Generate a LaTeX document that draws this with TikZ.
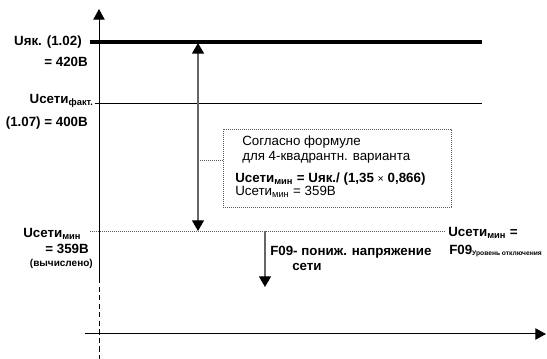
\documentclass[tikz,border=0pt]{standalone}
\usepackage{fontspec}
\setmainfont{Liberation Sans}
\usetikzlibrary{arrows.meta}
\begin{document}
\begin{tikzpicture}[x=0.75pt,y=-0.75pt,
  lbl/.style={inner sep=0pt,font=\fontsize{10}{12}\selectfont\bfseries},
  txt/.style={inner sep=0pt,font=\fontsize{10}{12}\selectfont},
  small/.style={inner sep=0pt,font=\fontsize{7.5}{9}\selectfont\bfseries},
  axis/.style={line width=0.75pt,-{Triangle[length=8pt,width=8.5pt]}},
  garrow/.style={draw=black!60,line width=1pt,-{Triangle[length=8pt,width=9pt,color=black]}},
  dotline/.style={draw=black!65,line width=0.6pt,dash pattern=on 0.6pt off 0.9pt}
]
\useasboundingbox (0,0) rectangle (547,359);
% axes
\coordinate (ytop) at (99,9);
\coordinate (ybot) at (99,278);
\coordinate (yend) at (99,359);
\coordinate (xl) at (85,334);
\coordinate (xr) at (546,334);
\draw[axis] (ybot) -- (ytop);
\draw[line width=0.75pt,dash pattern=on 4pt off 2.4pt] (ybot) -- (yend);
\draw[axis] (xl) -- (xr);
% level lines
\coordinate (ukl) at (90,42);  \coordinate (ukr) at (482,42);
\coordinate (ufl) at (95,103); \coordinate (ufr) at (482,103);
\coordinate (uml) at (90,231); \coordinate (umr) at (445,231);
\draw[line width=2.3pt] (ukl) -- (ukr);
\draw[line width=0.6pt] (ufl) -- (ufr);
\draw[dotline] (uml) -- (umr);
% double arrow
\coordinate (dtop) at (198,43);
\coordinate (dbot) at (198,231);
\coordinate (dmid) at (198,160);
\draw[garrow,{Triangle[length=8pt,width=9pt,color=black]}-{Triangle[length=8pt,width=9pt,color=black]}] (dbot) -- (dtop);
% down arrow
\coordinate (ftop) at (265,231);
\coordinate (fbot) at (265,287);
\draw[garrow] (ftop) -- (fbot);
% box
\node[dotline,draw,minimum width=228*0.75pt,minimum height=78*0.75pt,inner sep=0pt] (box) at (337,168) {};
\draw[dotline] (box.west |- dmid) -- (dmid);
\node[txt,anchor=west] (b1) at (242,142) {Согласно формуле};
\node[txt,anchor=west] (b2) at (242,157) {для 4-квадрантн. варианта};
\node[lbl,anchor=west] (b3) at (235,179) {Uсети\textsubscript{мин} = Uяк./ (1,35 {\mdseries\fontsize{8}{9}\selectfont ×} 0,866)};
\node[txt,anchor=west] (b4) at (235,192) {Uсети\textsubscript{мин} = 359В};
% left labels
\node[lbl,anchor=east] (l1) at (82,42) {Uяк. (1.02)};
\node[lbl,anchor=east] (l2) at (88,62) {= 420В};
\node[lbl,anchor=east] (l3) at (94,101) {Uсети\textsubscript{факт.}};
\node[lbl,anchor=east] (l4) at (88,123) {(1.07) = 400В};
\node[lbl,anchor=west] (l5) at (23,234) {Uсети\textsubscript{мин}};
\node[lbl,anchor=east] (l6) at (89,249) {= 359В};
\node[small,anchor=east] (l7) at (93,264) {(вычислено)};
% right labels
\node[lbl,anchor=west] (r1) at (448,233) {Uсети\textsubscript{мин} =};
\node[lbl,anchor=west] (r2) at (449,251) {F09{\fontsize{6}{7}\selectfont\textsubscript{Уровень отключения}}};
\node[lbl,anchor=west] (f1) at (270,252) {F09- пониж. напряжение};
\node[lbl,anchor=west] (f2) at (292,267) {сети};
\end{tikzpicture}
\end{document}
